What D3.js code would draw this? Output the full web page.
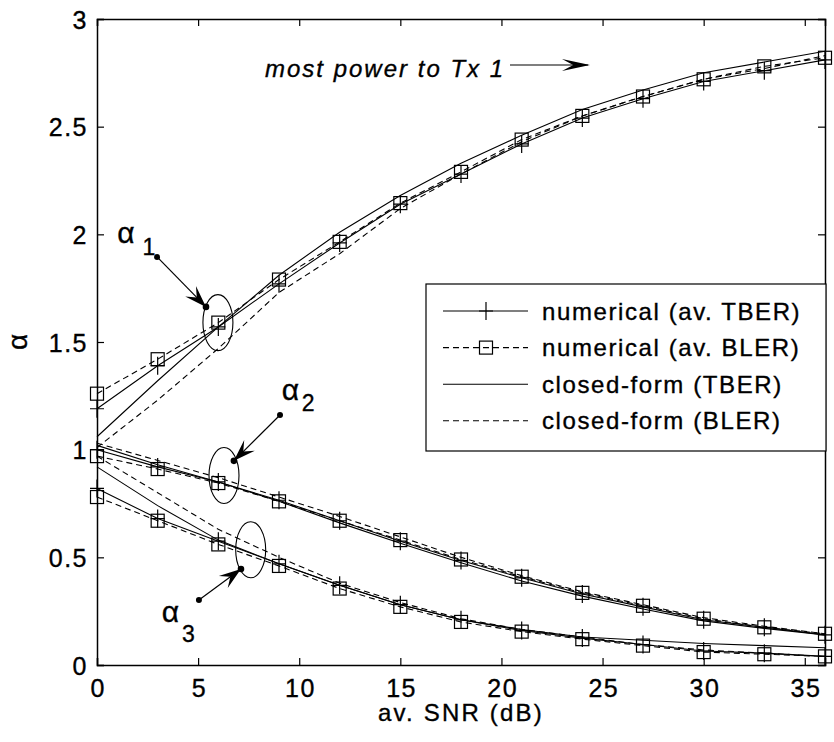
<!DOCTYPE html>
<html>
<head>
<meta charset="utf-8">
<script src="https://cdn.jsdelivr.net/npm/d3@7/dist/d3.min.js"></script>
<style>
  html, body { margin: 0; padding: 0; background: #fff; }
  svg { display: block; }
  text { font-family: "Liberation Sans", Arial, Helvetica, sans-serif; fill: #000; stroke: #000; stroke-width: 0.35px; }
</style>
</head>
<body>
<svg id="chart" width="834" height="742"></svg>
<script>
// ---------------- data ----------------
const snr = [0, 3, 6, 9, 12, 15, 18, 21, 24, 27, 30, 33, 36];

// alpha_1
const a1NumTBER = [1.19, 1.39, 1.57, 1.77, 1.96, 2.14, 2.28, 2.42, 2.54, 2.63, 2.71, 2.76, 2.81];
const a1NumBLER = [1.26, 1.42, 1.59, 1.79, 1.965, 2.145, 2.29, 2.44, 2.55, 2.64, 2.72, 2.78, 2.82];
const a1CfTBER  = [1.06, 1.32, 1.57, 1.81, 2.01, 2.18, 2.33, 2.46, 2.58, 2.67, 2.75, 2.80, 2.85];
const a1CfBLER  = [1.01, 1.23, 1.47, 1.73, 1.91, 2.12, 2.28, 2.43, 2.55, 2.64, 2.72, 2.77, 2.83];

// alpha_2
const a2NumTBER = [1.00, 0.92, 0.85, 0.765, 0.67, 0.575, 0.485, 0.405, 0.33, 0.27, 0.21, 0.175, 0.14];
const a2NumBLER = [0.97, 0.91, 0.845, 0.76, 0.67, 0.58, 0.49, 0.41, 0.335, 0.275, 0.215, 0.175, 0.145];
const a2CfTBER  = [1.02, 0.93, 0.85, 0.76, 0.66, 0.565, 0.475, 0.39, 0.32, 0.26, 0.205, 0.17, 0.14];
const a2CfBLER  = [1.03, 0.95, 0.87, 0.78, 0.69, 0.595, 0.50, 0.415, 0.34, 0.28, 0.22, 0.18, 0.145];

// alpha_3
const a3NumTBER = [0.82, 0.68, 0.575, 0.47, 0.37, 0.28, 0.21, 0.16, 0.125, 0.095, 0.065, 0.055, 0.04];
const a3NumBLER = [0.78, 0.67, 0.56, 0.46, 0.355, 0.27, 0.20, 0.155, 0.12, 0.09, 0.06, 0.05, 0.04];
const a3CfTBER  = [0.92, 0.74, 0.58, 0.47, 0.37, 0.28, 0.21, 0.165, 0.13, 0.115, 0.10, 0.09, 0.08];
const a3CfBLER  = [0.97, 0.80, 0.63, 0.50, 0.38, 0.29, 0.215, 0.165, 0.13, 0.095, 0.07, 0.055, 0.04];

const xTicks = [0, 5, 10, 15, 20, 25, 30, 35];
const yTicks = [0, 0.5, 1, 1.5, 2, 2.5, 3];
const yTickLabels = ["0", "0.5", "1", "1.5", "2", "2.5", "3"];

const legendLabels = ["numerical (av. TBER)", "numerical (av. BLER)", "closed-form (TBER)", "closed-form (BLER)"];
const xLabel = "av. SNR (dB)";
const yLabel = "α";
const noteText = "most power to Tx 1";

// ---------------- layout ----------------
const svg = d3.select("#chart");
const L = 97, R = 825, T = 19, B = 665;
const x = d3.scaleLinear().domain([0, 36]).range([L, R]);
const y = d3.scaleLinear().domain([0, 3]).range([B, T]);

const styles = [
  { dash: null,  marker: "plus"   },   // numerical TBER
  { dash: "6,4", marker: "square" },   // numerical BLER
  { dash: null,  marker: null     },   // closed-form TBER
  { dash: "6,4", marker: null     }    // closed-form BLER
];

const groups = [
  [a1NumTBER, a1NumBLER, a1CfTBER, a1CfBLER],
  [a2NumTBER, a2NumBLER, a2CfTBER, a2CfBLER],
  [a3NumTBER, a3NumBLER, a3CfTBER, a3CfBLER]
];

const line = d3.line().x(d => x(d[0])).y(d => y(d[1]));

function drawMarker(g, type, px, py) {
  if (type === "plus") {
    g.append("path").attr("d", `M${px-7},${py}H${px+7}M${px},${py-9}V${py+9}`)
      .attr("stroke", "#000").attr("stroke-width", 1.2).attr("fill", "none");
  } else if (type === "square") {
    g.append("rect").attr("x", px-6.5).attr("y", py-6.5).attr("width", 13).attr("height", 13)
      .attr("stroke", "#000").attr("stroke-width", 1.2).attr("fill", "none");
  }
}

const plot = svg.append("g");
groups.forEach(grp => {
  grp.forEach((vals, i) => {
    const st = styles[i];
    const pts = snr.map((s, k) => [s, vals[k]]);
    plot.append("path").attr("d", line(pts))
      .attr("fill", "none").attr("stroke", "#000").attr("stroke-width", 1.1)
      .attr("stroke-dasharray", st.dash);
    if (st.marker) pts.forEach(p => drawMarker(plot, st.marker, x(p[0]), y(p[1])));
  });
});

// ---------------- axes (box, inward ticks) ----------------
const axG = svg.append("g");
const tickLen = 7;
const axBottom = d3.axisBottom(x).tickValues(xTicks).tickSize(-tickLen).tickFormat(d3.format("d"));
const axTop = d3.axisTop(x).tickValues(xTicks).tickSize(-tickLen).tickFormat("");
const axLeft = d3.axisLeft(y).tickValues(yTicks).tickSize(-tickLen).tickFormat((d, i) => yTickLabels[i]);
const axRight = d3.axisRight(y).tickValues(yTicks).tickSize(-tickLen).tickFormat("");

const gb = axG.append("g").attr("transform", `translate(0,${B})`).call(axBottom);
const gt = axG.append("g").attr("transform", `translate(0,${T})`).call(axTop);
const gl = axG.append("g").attr("transform", `translate(${L},0)`).call(axLeft);
const gr = axG.append("g").attr("transform", `translate(${R},0)`).call(axRight);
[gb, gt, gl, gr].forEach(g => {
  g.select(".domain").attr("stroke", "#000").attr("stroke-width", 1.5);
  g.selectAll(".tick line").attr("stroke", "#000").attr("stroke-width", 1.2);
});
gb.selectAll(".tick text").attr("font-size", 25).attr("letter-spacing", "1.5px")
  .attr("y", 14).attr("dy", "0.71em").attr("dx", "0.75px")
  .style("font-family", "Liberation Sans, Arial, sans-serif").attr("fill", "#000");
gl.selectAll(".tick text").attr("font-size", 25).attr("letter-spacing", "1.5px")
  .attr("x", -9).attr("dy", "0.36em")
  .style("font-family", "Liberation Sans, Arial, sans-serif").attr("fill", "#000");

// axis labels
svg.append("text").attr("x", (L + R) / 2).attr("y", 721).attr("text-anchor", "middle")
  .attr("font-size", 24).attr("letter-spacing", "2.2px").text(xLabel);
svg.append("text").attr("transform", `translate(27,342) rotate(-90)`).attr("text-anchor", "middle")
  .attr("font-size", 28).text(yLabel);

// ---------------- legend ----------------
const lg = svg.append("g");
lg.append("rect").attr("x", 426).attr("y", 284).attr("width", 400).attr("height", 167)
  .attr("fill", "#fff").attr("stroke", "#000").attr("stroke-width", 1.2);
legendLabels.forEach((lab, i) => {
  const cy = 311 + i * 36.6;
  const st = styles[i];
  lg.append("line").attr("x1", 443).attr("x2", 528).attr("y1", cy).attr("y2", cy)
    .attr("stroke", "#000").attr("stroke-width", 1.1).attr("stroke-dasharray", st.dash);
  if (st.marker) drawMarker(lg, st.marker, 486, cy);
  lg.append("text").attr("x", 542).attr("y", cy).attr("dy", "0.36em")
    .attr("font-size", 24).attr("letter-spacing", "1.6px").text(lab);
});

// ---------------- annotations ----------------
const ann = svg.append("g");
function arrowHead(x1, y1, x2, y2, len, w) {
  const dx = x2 - x1, dy = y2 - y1, d = Math.hypot(dx, dy);
  const ux = dx / d, uy = dy / d, nx = -uy, ny = ux;
  const bx = x2 - ux * len, by = y2 - uy * len;
  const mx = x2 - ux * len * 0.6, my = y2 - uy * len * 0.6;
  return `M${x2},${y2}L${bx + nx * w},${by + ny * w}L${mx},${my}L${bx - nx * w},${by - ny * w}Z`;
}
function pointer(sx, sy, ex, ey) {
  const x1 = x(sx), y1 = y(sy), x2 = x(ex), y2 = y(ey);
  ann.append("line").attr("x1", x1).attr("y1", y1).attr("x2", x2).attr("y2", y2)
    .attr("stroke", "#000").attr("stroke-width", 1.2);
  ann.append("circle").attr("cx", x1).attr("cy", y1).attr("r", 3).attr("fill", "#000");
  ann.append("circle").attr("cx", x2).attr("cy", y2).attr("r", 3.3).attr("fill", "#000");
  ann.append("path").attr("d", arrowHead(x1, y1, x2, y2, 22, 7.5)).attr("fill", "#000");
}
function ellipse(cx, cy) {
  ann.append("ellipse").attr("cx", x(cx)).attr("cy", y(cy)).attr("rx", 15).attr("ry", 28)
    .attr("fill", "none").attr("stroke", "#000").attr("stroke-width", 1.1);
}
function alphaLabel(ax, ay, sx, sy, sub) {
  ann.append("text").attr("x", x(ax)).attr("y", y(ay)).attr("font-size", 30).text("α");
  ann.append("text").attr("x", x(sx)).attr("y", y(sy)).attr("font-size", 23).text(sub);
}

ellipse(5.98, 1.59);
ellipse(6.28, 0.88);
ellipse(7.6, 0.535);
pointer(2.97, 1.895, 5.39, 1.663);
pointer(9.05, 1.161, 6.77, 0.948);
pointer(5.04, 0.302, 7.12, 0.446);
alphaLabel(1.0, 1.96, 2.25, 1.905, "1");
alphaLabel(9.14, 1.231, 10.13, 1.18, "2");
alphaLabel(3.2, 0.2, 4.2, 0.105, "3");

// "most power to Tx 1" note with arrow
ann.append("text").attr("x", 265).attr("y", 77).attr("font-size", 24)
  .attr("font-style", "italic").attr("letter-spacing", "2px").text(noteText);
ann.append("line").attr("x1", 510).attr("y1", 65).attr("x2", 588).attr("y2", 65)
  .attr("stroke", "#000").attr("stroke-width", 1.2);
ann.append("path").attr("d", arrowHead(510, 65, 590, 65, 28, 6)).attr("fill", "#000");
</script>
</body>
</html>
